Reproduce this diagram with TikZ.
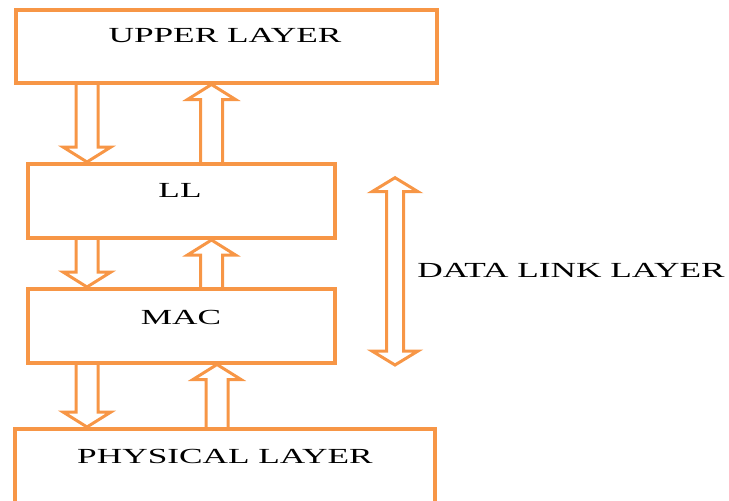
\documentclass[tikz,border=0pt]{standalone}
\usepackage{graphicx}
\usepackage{fontspec}
\setmainfont{Liberation Serif}
\usetikzlibrary{calc}

\definecolor{layerorange}{RGB}{247,150,70}

\tikzset{
  x=1pt, y=-1pt,
  layerbox/.style={draw=layerorange, line width=4pt, inner sep=0pt, fill=none},
  layertext/.style={inner sep=0pt, text=black, font=\fontsize{21.5}{25}\selectfont},
  fatarrow/.style={draw=layerorange, line width=3pt, line join=miter},
}

% hollow block arrow pointing down: shaft starts at #1, tip at the height of #2
\newcommand\flowdown[2]{%
  \draw[fatarrow] let \p1=(#1), \p2=(#2) in
    (\x1-11pt,\y1) -- (\x1-11pt,\y2+15pt) -- (\x1-24pt,\y2+15pt) -- (\x1,\y2)
    -- (\x1+24pt,\y2+15pt) -- (\x1+11pt,\y2+15pt) -- (\x1+11pt,\y1);}
% hollow block arrow pointing up
\newcommand\flowup[2]{%
  \draw[fatarrow] let \p1=(#1), \p2=(#2) in
    (\x1-11pt,\y1) -- (\x1-11pt,\y2-15pt) -- (\x1-24pt,\y2-15pt) -- (\x1,\y2)
    -- (\x1+24pt,\y2-15pt) -- (\x1+11pt,\y2-15pt) -- (\x1+11pt,\y1);}

\newcommand\widetext[1]{\scalebox{1.64}[1]{#1}}

\begin{document}
\begin{tikzpicture}
  \useasboundingbox (0,0) rectangle (729,501);

  % protocol layers
  \node[layerbox, minimum width=421pt, minimum height=73pt]   (upper) at (226,46) {};
  \node[layerbox, minimum width=307pt, minimum height=74pt]   (ll)    at (181.5,201) {};
  \node[layerbox, minimum width=307pt, minimum height=73.5pt] (mac)   at (181.5,325.75) {};
  \node[layerbox, minimum width=420pt, minimum height=100pt]  (phys)  at (225,479) {};

  % layer names
  \node[layertext] (upperlbl) at (225,36)  {\widetext{UPPER LAYER}};
  \node[layertext] (lllbl)    at (180,190) {\widetext{LL}};
  \node[layertext] (maclbl)   at (181,317) {\widetext{MAC}};
  \node[layertext] (physlbl)  at (225,456) {\widetext{PHYSICAL LAYER}};
  \node[layertext] (dllbl)    at (571,270) {\widetext{DATA LINK LAYER}};

  % data passed between adjacent layers
  \flowdown{$(upper.south west)+(73.5,0)$}{ll.north}
  \flowup{$(ll.north west)+(185.5,0)$}{upper.south}
  \flowdown{$(ll.south west)+(61,0)$}{mac.north}
  \flowup{$(mac.north west)+(185.5,0)$}{ll.south}
  \flowdown{$(mac.south west)+(61,0)$}{phys.north}
  \flowup{$(phys.north west)+(204,0)$}{mac.south}

  % extent of the data link layer
  \coordinate (dltop) at (395,177.7);
  \coordinate (dlbot) at (395,365);
  \draw[fatarrow] let \p1=(dltop), \p2=(dlbot) in
    (\x1,\y1) -- (\x1+23pt,\y1-14pt) -- (\x1+8.5pt,\y1-14pt) -- (\x1+8.5pt,\y2+14pt)
    -- (\x1+23pt,\y2+14pt) -- (\x1,\y2) -- (\x1-23pt,\y2+14pt) -- (\x1-8.5pt,\y2+14pt)
    -- (\x1-8.5pt,\y1-14pt) -- (\x1-23pt,\y1-14pt) -- cycle;
\end{tikzpicture}
\end{document}
